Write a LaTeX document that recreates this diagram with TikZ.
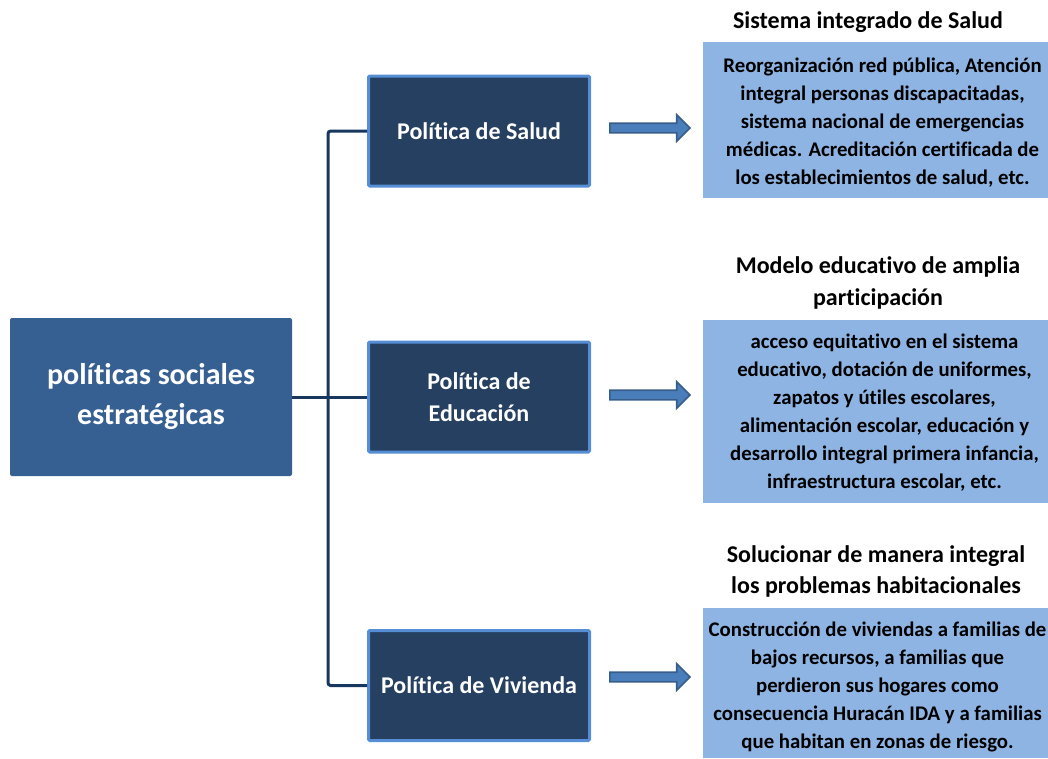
\documentclass[tikz,border=0pt]{standalone}
\usepackage{fontspec}
\setmainfont{Carlito}[Ligatures=CommonOff]
\usepackage{xcolor}
\usetikzlibrary{shapes,arrows,positioning,calc}

\definecolor{mainblue}{RGB}{55,96,146}
\definecolor{navy}{RGB}{38,64,97}
\definecolor{rim}{RGB}{85,142,213}
\definecolor{pale}{RGB}{142,180,227}
\definecolor{spine}{RGB}{23,55,94}
\definecolor{arrowfill}{RGB}{74,126,187}
\definecolor{arrowrim}{RGB}{56,93,138}

\tikzset{
  mainbox/.style={fill=mainblue, rounded corners=1.5pt, text=white, align=center,
    font=\fontsize{22.5}{30}\selectfont\bfseries, minimum width=211.5pt, minimum height=118.5pt},
  polbox/.style={fill=navy, draw=rim, line width=2.25pt, rounded corners=1pt, text=white, align=center,
    font=\fontsize{18}{24.5}\selectfont\bfseries, minimum width=165.75pt, minimum height=82.5pt},
  infobox/.style={fill=pale, inner sep=0pt, minimum width=258.75pt},
  bodytext/.style={align=center, inner sep=0pt, font=\fontsize{15.6}{21}\selectfont\bfseries},
  heading/.style={align=center, inner sep=0pt, font=\fontsize{18}{23.5}\selectfont\bfseries},
  pointer/.style={single arrow, fill=arrowfill, draw=arrowrim, line width=1.2pt, inner sep=3pt,
    minimum height=60pt, single arrow head extend=6.3pt, single arrow head indent=0pt},
  conn/.style={draw=spine, line width=2.25pt}
}

\begin{document}
\begin{tikzpicture}[x=0.75pt, y=-0.75pt]
    \useasboundingbox (0,0) rectangle (1048,758);

    % Left
    \node[mainbox] (main) at (151,397) {políticas sociales\\estratégicas};

    % Policies
    \node[polbox] (salud) at (479,131) {Política de Salud};
    \node[polbox] (educ) at (479,397) {Política de\\Educación};
    \node[polbox] (viv) at (479,685.5) {Política de Vivienda};

    \draw[conn, rounded corners=2pt] (salud.west) -- ++(-39,0) |- (viv.west);
    \draw[conn] (main.east) -- (educ.west);

    % Arrows
    \node[pointer] (aSalud) at (647.5,128) {};
    \node[pointer] (aEduc) at (647.5,395) {};
    \node[pointer] (aViv) at (647.5,677) {};

    % Right
    \node[infobox, minimum height=117pt] (dSalud) at (875.5,120) {};
    \node[infobox, minimum height=137.25pt] (dEduc) at (875.5,411.5) {};
    \node[infobox, minimum height=112.5pt] (dViv) at (875.5,683) {};

    \node[bodytext] (xSalud) at ($(dSalud.center)+(7,3)$)
        {Reorganización red pública, Atención\\integral personas discapacitadas,\\sistema nacional de emergencias\\médicas. Acreditación certificada de\\los establecimientos de salud, etc.};
    \node[bodytext] (xEduc) at ($(dEduc.center)+(9,1)$)
        {acceso equitativo en el sistema\\educativo, dotación de uniformes,\\zapatos y útiles escolares,\\alimentación escolar, educación y\\desarrollo integral primera infancia,\\infraestructura escolar, etc.};
    \node[bodytext] (xViv) at ($(dViv.center)+(2,4)$)
        {Construcción de viviendas a familias de\\bajos recursos, a familias que\\perdieron sus hogares como\\consecuencia Huracán IDA y a familias\\que habitan en zonas de riesgo.};

    \node[heading] (tSalud) at (868,22) {Sistema integrado de Salud};
    \node[heading] (tEduc) at (878,283) {Modelo educativo de amplia\\participación};
    \node[heading] (tViv) at (876,571.5) {Solucionar de manera integral\\los problemas habitacionales};
\end{tikzpicture}
\end{document}
